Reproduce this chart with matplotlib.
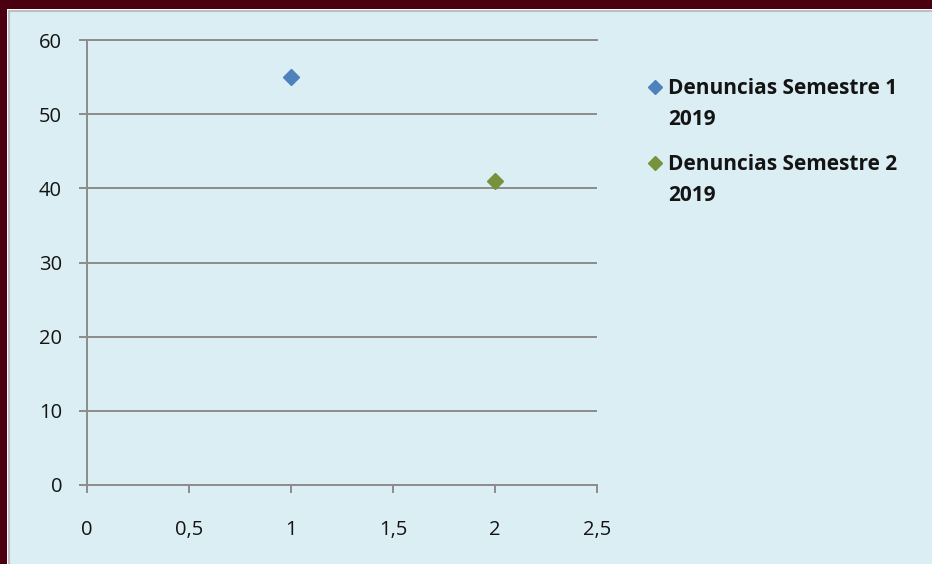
import matplotlib
matplotlib.use('Agg')
import matplotlib.pyplot as plt
from matplotlib.patches import Rectangle
from matplotlib.lines import Line2D

# data
series_names = ['Denuncias Semestre 1\n2019', 'Denuncias Semestre 2\n2019']
series_x = [1, 2]
series_y = [55, 41]
series_colors = ['#4F81BD', '#76923C']

x_ticks = [0, 0.5, 1, 1.5, 2, 2.5]
x_ticklabels = ['0', '0,5', '1', '1,5', '2', '2,5']
y_ticks = [0, 10, 20, 30, 40, 50, 60]

W, H = 932, 564
BG = '#DBEEF3'
GRID = '#8C8C8C'
TXT = '#141414'

plt.rcParams['font.family'] = ['Open Sans', 'DejaVu Sans']

fig = plt.figure(figsize=(W / 100, H / 100), dpi=100, facecolor='#4B0012')

# light chart panel with thin border
fig.add_artist(Rectangle((7 / W, 0), 1, 1 - 9 / H, transform=fig.transFigure,
                         facecolor='white', edgecolor='none', zorder=0))
fig.add_artist(Rectangle((9 / W, -0.01), 1, 1 - 11 / H + 0.01, transform=fig.transFigure,
                         facecolor=BG, edgecolor='#BFBFBF', lw=1.5, zorder=0))

ax = fig.add_axes([87 / W, 1 - 485 / H, (597 - 87) / W, (485 - 40) / H])
ax.set_facecolor('none')

for x, y, c in zip(series_x, series_y, series_colors):
    ax.plot([x], [y], linestyle='none', marker='D', markersize=8,
            color=c, markeredgecolor=c, zorder=3, clip_on=False)

ax.set_xlim(0, 2.5)
ax.set_ylim(0, 60)
ax.set_xticks(x_ticks)
ax.set_xticklabels(x_ticklabels)
ax.set_yticks(y_ticks)

ax.grid(axis='y', color=GRID, lw=1.4)
ax.grid(axis='x', visible=False)
ax.set_axisbelow(True)

ax.spines['right'].set_visible(False)
for s in ['left', 'bottom', 'top']:
    ax.spines[s].set_color(GRID)
    ax.spines[s].set_linewidth(1.4)

ax.tick_params(axis='y', direction='out', length=6, width=1.4, color=GRID,
               labelsize=14.5, labelcolor=TXT, pad=12)
ax.tick_params(axis='x', direction='out', length=6, width=1.4, color=GRID,
               labelsize=14.5, labelcolor=TXT, pad=19)
for lab in ax.get_xticklabels() + ax.get_yticklabels():
    lab.set_fontweight('medium')

# legend drawn by hand so the marker sits on the first text line
leg_y = [87, 163]
for name, c, yy in zip(series_names, series_colors, leg_y):
    fig.add_artist(Line2D([655 / W], [1 - yy / H], transform=fig.transFigure,
                          marker='D', markersize=7, color=c, linestyle='none'))
    fig.text(668 / W, 1 - (yy - 9) / H, name, fontsize=15, fontweight='bold',
             color=TXT, va='top', ha='left', linespacing=1.6)

fig.savefig('out.png', dpi=100, facecolor=fig.get_facecolor())
